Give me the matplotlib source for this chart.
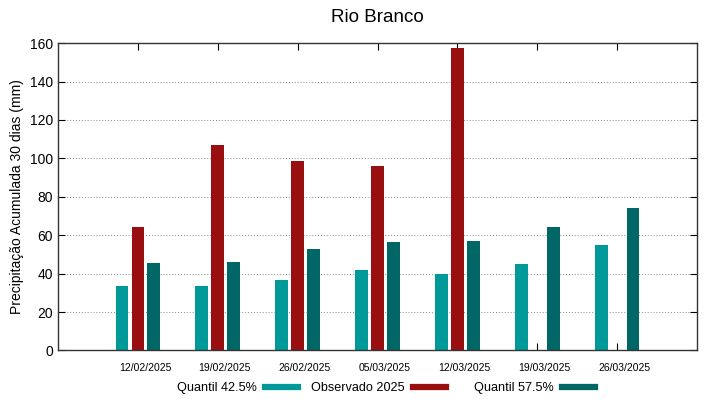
import numpy as np
import matplotlib.pyplot as plt
import matplotlib.transforms as mtransforms
from matplotlib.lines import Line2D

plt.rcParams['font.family'] = ['Liberation Sans', 'DejaVu Sans']

dates = ["12/02/2025", "19/02/2025", "26/02/2025", "05/03/2025",
         "12/03/2025", "19/03/2025", "26/03/2025"]
q425 = [33.8, 33.8, 36.8, 42.0, 39.7, 45.1, 55.0]
obs2025 = [64.5, 106.9, 98.7, 95.8, 157.2, np.nan, np.nan]
q575 = [45.5, 46.3, 52.9, 56.6, 57.1, 64.5, 74.1]
labels = ["Quantil 42.5%", "Observado 2025", "Quantil 57.5%"]

c_q425 = "#009999"
c_obs = "#990f0f"
c_q575 = "#006666"

x = np.arange(1, len(dates) + 1)
w = 0.16

fig = plt.figure(figsize=(7.19, 3.99), dpi=100)
ax = fig.add_axes([0.0807, 0.1216, 0.8887, 0.7704])

ax.bar(x - 0.2, q425, width=w, color=c_q425)
ax.bar(x, obs2025, width=w, color=c_obs)
ax.bar(x + 0.2, q575, width=w, color=c_q575)

ax.set_xlim(0, 8)
ax.set_ylim(0, 160)
ax.set_xticks(x)
ax.set_xticklabels(dates, fontsize=7.5)
ax.set_yticks(np.arange(0, 161, 20))
ax.tick_params(axis='y', labelsize=10, direction='in', right=True, length=5)
ax.tick_params(axis='x', direction='in', top=True, length=5, pad=9)
# gnuplot puts the date labels a little right of the tick
shift = mtransforms.ScaledTranslation(7 / 100, 0, fig.dpi_scale_trans)
for lab in ax.get_xticklabels():
    lab.set_transform(lab.get_transform() + shift)
for s in ax.spines.values():
    s.set_color("#333333")
    s.set_linewidth(1.0)
ax.set_axisbelow(True)
ax.grid(axis='y', linestyle=(0, (1, 2)), color='#888888', linewidth=0.7)

ax.set_ylabel("Precipitação Acumulada 30 dias (mm)", fontsize=10)
ax.set_title("Rio Branco", fontsize=13.5, pad=15)

# one legend per entry, like gnuplot's uneven key columns
centers = [237.5 / 719, 378.5 / 719, 534.5 / 719]
for lab, col, cx in zip(labels, (c_q425, c_obs, c_q575), centers):
    leg = fig.legend([Line2D([], [], color=col, linewidth=4.5)], [lab],
                     loc='center', bbox_to_anchor=(cx, 1 - 388 / 399),
                     frameon=False, markerfirst=False, fontsize=9.1,
                     handlelength=2.6, handletextpad=0.63, borderpad=0.2)

fig.savefig("out.png", dpi=100)
